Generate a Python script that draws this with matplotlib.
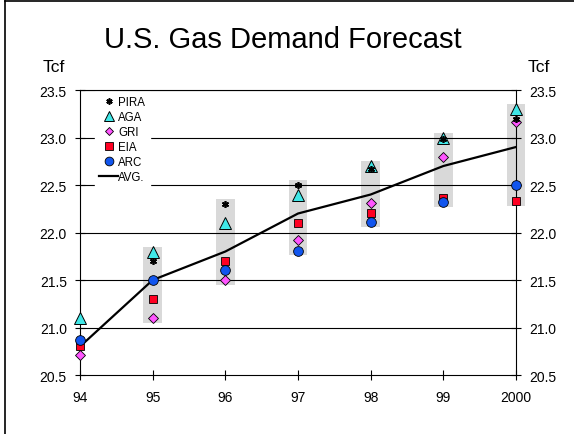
import numpy as np
import matplotlib.pyplot as plt
from matplotlib.lines import Line2D

plt.rcParams['font.family'] = ['Liberation Sans', 'DejaVu Sans']

years = ['94', '95', '96', '97', '98', '99', '2000']
pira = [np.nan, 21.7, 22.3, 22.5, 22.67, 22.98, 23.2]
aga = [21.1, 21.8, 22.1, 22.4, 22.7, 23.0, 23.3]
gri = [20.71, 21.1, 21.5, 21.92, 22.31, 22.8, 23.16]
eia = [20.81, 21.3, 21.7, 22.1, 22.21, 22.36, 22.33]
arc = [20.87, 21.5, 21.61, 21.81, 22.11, 22.32, 22.5]
avg = [20.8, 21.5, 21.8, 22.2, 22.4, 22.7, 22.9]

fig = plt.figure(figsize=(5.74, 4.35), dpi=100)
ax = fig.add_axes([0.1394, 0.1356, 0.7596, 0.6552])

x = np.arange(len(years))
series = np.array([pira, aga, gri, eia, arc], dtype=float)

# grey range bars from the lowest to the highest forecast, 95 onwards
lo = np.nanmin(series, axis=0)
hi = np.nanmax(series, axis=0)
pad = 0.05
ax.bar(x[1:], (hi - lo)[1:] + 2 * pad, bottom=lo[1:] - pad, width=0.26,
       color='#d9d9d9', zorder=1, clip_on=False)

for v in np.arange(21.0, 23.51, 0.5):
    ax.axhline(v, color='black', lw=0.8, zorder=2)

ax.plot(x, avg, color='black', lw=1.6, zorder=3, label='AVG.')
ax.plot(x, pira, ls='none', marker=(6, 2, 0), ms=5, mec='black', mew=1.2,
        zorder=5, label='PIRA', clip_on=False)
ax.plot(x, aga, ls='none', marker='^', ms=8, mfc='#40e8e8', mec='black',
        mew=0.7, zorder=4, label='AGA', clip_on=False)
ax.plot(x, gri, ls='none', marker='D', ms=5, mfc='#ff55ff', mec='black',
        mew=0.6, zorder=4, label='GRI', clip_on=False)
ax.plot(x, eia, ls='none', marker='s', ms=6, mfc='#ff0022', mec='black',
        mew=0.6, zorder=4, label='EIA', clip_on=False)
ax.plot(x, arc, ls='none', marker='o', ms=7, mfc='#1155ee', mec='black',
        mew=0.6, zorder=4, label='ARC', clip_on=False)

ax.set_xlim(0, len(years) - 1)
ax.set_ylim(20.5, 23.5)
ax.set_xticks(x)
ax.set_xticklabels(years)
ax.set_yticks(np.arange(20.5, 23.51, 0.5))
ax.set_yticklabels(['%.1f' % v for v in np.arange(20.5, 23.51, 0.5)])
ax.tick_params(axis='both', direction='inout', length=7, width=0.8,
               labelsize=10, colors='black')
ax.tick_params(axis='y', right=True, labelright=True, pad=6)
ax.tick_params(axis='x', pad=7)
for s in ax.spines.values():
    s.set_color('black')
    s.set_linewidth(0.8)

handles, labels = ax.get_legend_handles_labels()
order = ['PIRA', 'AGA', 'GRI', 'EIA', 'ARC', 'AVG.']
hmap = dict(zip(labels, handles))
leg = ax.legend([hmap[k] for k in order], order, loc='upper left',
                bbox_to_anchor=(0.03, 1.0), fontsize=8.3, frameon=True,
                fancybox=False, edgecolor='white', facecolor='white',
                framealpha=1, handlelength=1.6, handletextpad=0.05,
                labelspacing=0.25, borderpad=0.4, borderaxespad=0.15,
                markerscale=0.9)
leg.set_zorder(6)

fig.text(0.493, 0.908, 'U.S. Gas Demand Forecast', ha='center', va='center',
         fontsize=21)
fig.text(0.094, 0.845, 'Tcf', ha='center', va='center', fontsize=12.5)
fig.text(0.939, 0.845, 'Tcf', ha='center', va='center', fontsize=12.5)

# outer frame lines along the left and top edges
fig.add_artist(Line2D([0.0087, 0.0087], [0, 0.9954], color='black', lw=1.2))
fig.add_artist(Line2D([0.0087, 1], [0.9954, 0.9954], color='black', lw=1.2))

fig.savefig('out.png', dpi=100)
